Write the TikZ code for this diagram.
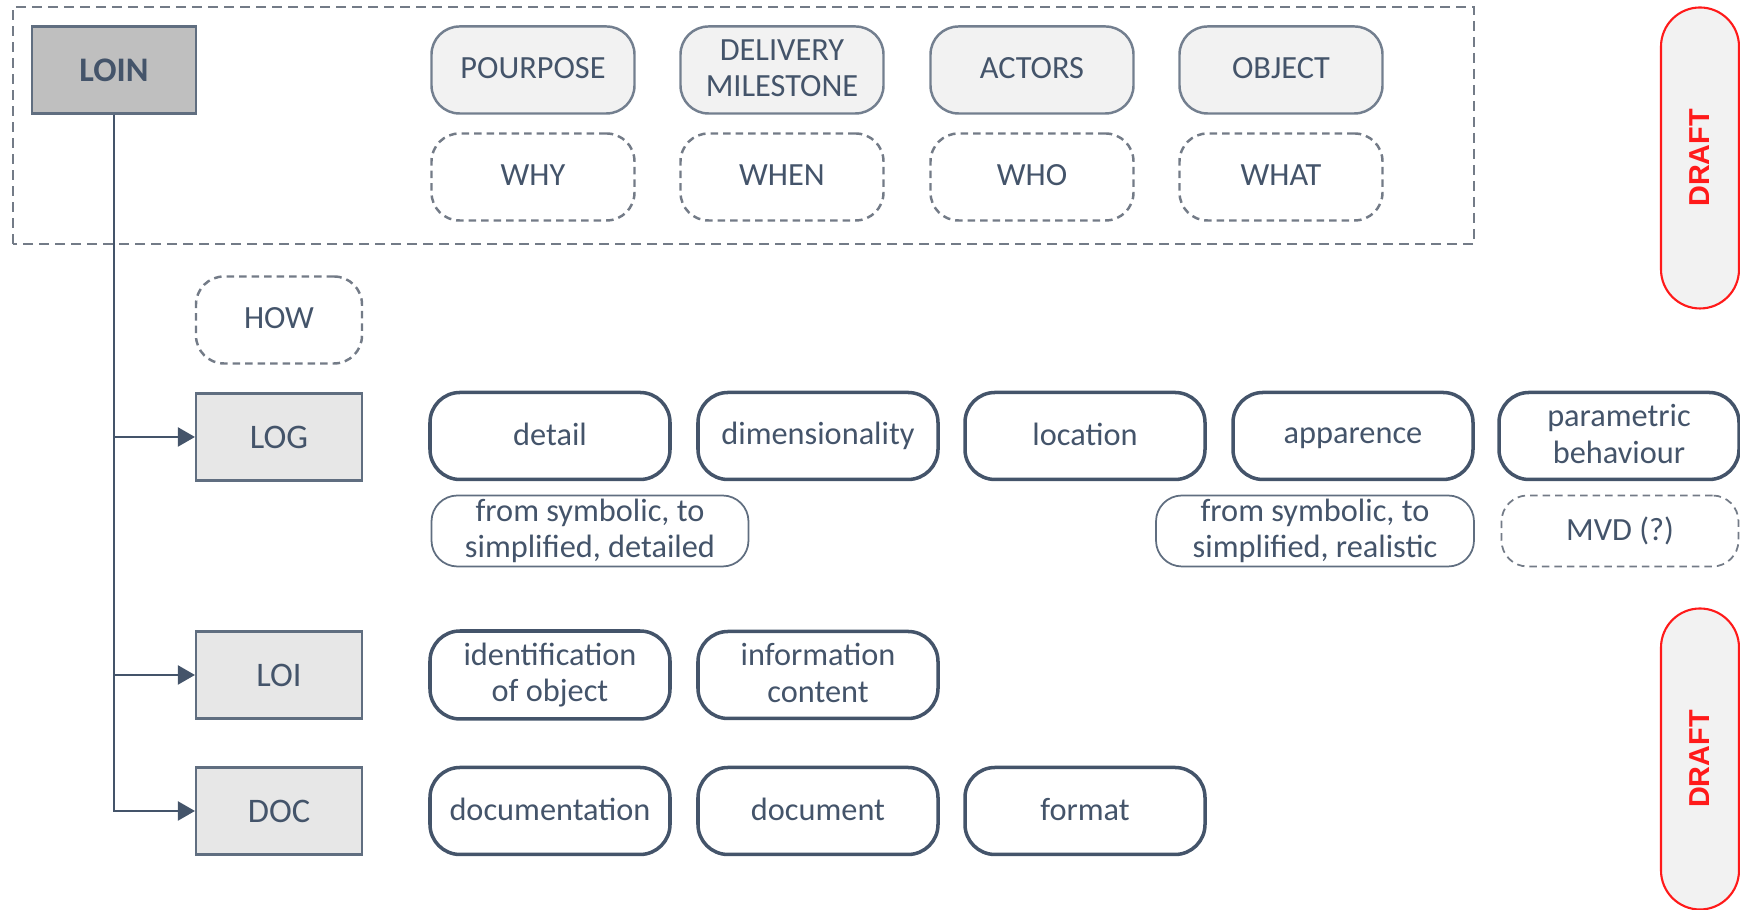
\documentclass[tikz,border=0pt]{standalone}
\usepackage{fontspec}
\setmainfont{Carlito}
\newfontfamily\draftfont{Liberation Sans}
\usetikzlibrary{arrows.meta}

\definecolor{slate}{HTML}{44546A}
\definecolor{dashgray}{HTML}{737B87}
\definecolor{paleGray}{HTML}{F2F2F2}
\definecolor{midGray}{HTML}{BFBFBF}
\definecolor{boxGray}{HTML}{E7E7E7}
\definecolor{draftRed}{HTML}{FF1A1A}

\newcommand{\labelstrut}{\rule[-0.12em]{0pt}{0.75em}}

\begin{document}
\begin{tikzpicture}[
  root/.style={rectangle, draw=slate!85, line width=0.6pt, fill=midGray, minimum width=1.64cm, minimum height=0.87cm, text=slate, font=\fontsize{9.8}{11}\selectfont\bfseries},
  level/.style={rectangle, draw=slate!85, line width=0.6pt, fill=boxGray, minimum width=1.66cm, minimum height=0.87cm, text=slate, font=\fontsize{9.8}{11}\selectfont},
  aspect/.style={rectangle, rounded corners=2.8mm, draw=slate!75, line width=0.7pt, fill=paleGray, minimum width=2.03cm, minimum height=0.87cm, text=slate, font=\fontsize{9.2}{10.4}\selectfont, align=center, execute at begin node=\labelstrut, execute at end node=\labelstrut},
  question/.style={aspect, fill=none, draw=dashgray, dash pattern=on 0.75mm off 0.5mm},
  facet/.style={rectangle, rounded corners=3mm, draw=slate, line width=1pt, minimum width=2.4cm, minimum height=0.87cm, text=slate, font=\fontsize{9.2}{10.4}\selectfont, align=center, execute at begin node=\labelstrut, execute at end node=\labelstrut},
  note/.style={facet, line width=0.5pt, draw=slate!85, rounded corners=2.6mm, minimum height=0.71cm, inner ysep=0pt},
  hint/.style={note, draw=dashgray, dash pattern=on 0.75mm off 0.5mm},
  draftpill/.style={rectangle, rounded corners=3.9mm, draw=draftRed, line width=0.6pt, fill=paleGray, minimum width=3.01cm, minimum height=0.78cm, rotate=90, text=draftRed, font=\draftfont\bfseries\fontsize{8.2}{9}\selectfont},
  frame/.style={draw=dashgray, line width=0.6pt, dash pattern=on 1mm off 0.6mm},
  link/.style={-{Triangle[length=1.7mm, width=1.9mm]}, draw=slate, line width=0.6pt}
]
\clip (0,0) rectangle (17.4,9.1);

% level of information need
\draw[frame] (0.13,6.66) rectangle (14.74,9.03);
\node[root] (loin) at (1.14, 8.40) {LOIN};

\node[aspect] (purpose)   at (5.33, 8.40)  {POURPOSE};
\node[aspect] (milestone) at (7.82, 8.40)  {DELIVERY\\MILESTONE};
\node[aspect] (actors)    at (10.32, 8.40) {ACTORS};
\node[aspect] (object)    at (12.81, 8.40) {OBJECT};

\node[question] (why)  at (5.33, 7.33)  {WHY};
\node[question] (when) at (7.82, 7.33)  {WHEN};
\node[question] (who)  at (10.32, 7.33) {WHO};
\node[question] (what) at (12.81, 7.33) {WHAT};

\node[question, minimum width=1.66cm] (how) at (2.79, 5.90) {HOW};

% geometry
\node[level] (log) at (2.79, 4.73) {LOG};
\node[facet] (detail)     at (5.50, 4.74)  {detail};
\node[facet] (dimension)  at (8.18, 4.74)  {dimensionality};
\node[facet] (location)   at (10.85, 4.74) {location};
\node[facet] (appearance) at (13.53, 4.74) {apparence};
\node[facet] (parametric) at (16.19, 4.74) {parametric\\behaviour};

\node[note, minimum width=3.17cm] (detailnote) at (5.90, 3.79)  {from symbolic, to\\simplified, detailed};
\node[note, minimum width=3.18cm] (appearnote) at (13.15, 3.79) {from symbolic, to\\simplified, realistic};
\node[hint, minimum width=2.37cm] (mvd)        at (16.20, 3.79) {MVD (?)};

% information
\node[level] (loi) at (2.79, 2.35) {LOI};
\node[facet] (ident)   at (5.50, 2.35) {identification\\of object};
\node[facet] (content) at (8.18, 2.35) {information\\content};

% documentation
\node[level] (doc) at (2.79, 0.99) {DOC};
\node[facet] (documentation) at (5.50, 0.99)  {documentation};
\node[facet] (document)      at (8.18, 0.99)  {document};
\node[facet] (format)        at (10.85, 0.99) {format};

\node[draftpill] (draftTop)    at (17.00, 7.52) {DRAFT};
\node[draftpill] (draftBottom) at (17.00, 1.51) {DRAFT};

\draw[link] (loin.south) |- (log.west);
\draw[link] (loin.south) |- (loi.west);
\draw[link] (loin.south) |- (doc.west);

\end{tikzpicture}
\end{document}
